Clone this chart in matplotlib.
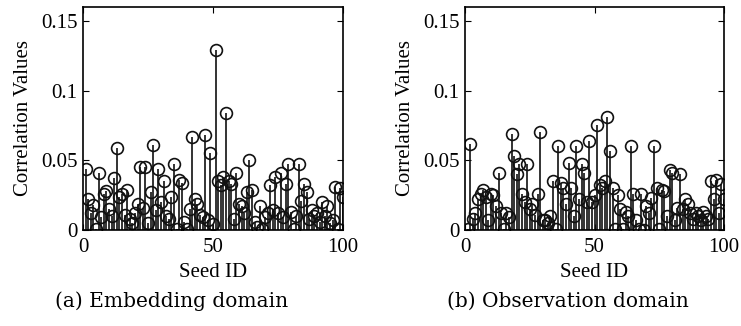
import matplotlib
matplotlib.use("Agg")
import matplotlib.pyplot as plt
import numpy as np

seed_ids = list(range(1, 101))

embedding_corr = [
    0.044, 0.022, 0.012, 0.018, 0.001, 0.041, 0.009, 0.026, 0.028, 0.015,
    0.010, 0.037, 0.059, 0.024, 0.026, 0.011, 0.029, 0.008, 0.005, 0.012,
    0.019, 0.045, 0.016, 0.045, 0.005, 0.027, 0.061, 0.014, 0.044, 0.020,
    0.035, 0.010, 0.008, 0.024, 0.047, 0.001, 0.036, 0.034, 0.006, 0.001,
    0.015, 0.067, 0.022, 0.019, 0.011, 0.009, 0.068, 0.007, 0.055, 0.004,
    0.129, 0.035, 0.032, 0.038, 0.084, 0.035, 0.033, 0.008, 0.041, 0.019,
    0.017, 0.012, 0.027, 0.050, 0.029, 0.006, 0.002, 0.017, 0.001, 0.009,
    0.012, 0.032, 0.014, 0.038, 0.012, 0.041, 0.009, 0.033, 0.047, 0.013,
    0.001, 0.010, 0.047, 0.021, 0.033, 0.027, 0.008, 0.014, 0.010, 0.012,
    0.006, 0.020, 0.010, 0.017, 0.005, 0.007, 0.031, 0.001, 0.030, 0.024,
]

observation_corr = [
    0.001, 0.062, 0.008, 0.012, 0.022, 0.026, 0.029, 0.024, 0.007, 0.026,
    0.025, 0.017, 0.041, 0.012, 0.001, 0.012, 0.009, 0.069, 0.053, 0.040,
    0.047, 0.026, 0.020, 0.047, 0.015, 0.019, 0.011, 0.026, 0.070, 0.007,
    0.007, 0.005, 0.010, 0.035, 0.001, 0.060, 0.034, 0.030, 0.019, 0.048,
    0.030, 0.010, 0.060, 0.022, 0.047, 0.041, 0.020, 0.064, 0.020, 0.025,
    0.075, 0.032, 0.030, 0.035, 0.081, 0.057, 0.030, 0.001, 0.025, 0.015,
    0.001, 0.013, 0.010, 0.060, 0.026, 0.007, 0.001, 0.026, 0.000, 0.017,
    0.012, 0.023, 0.060, 0.030, 0.001, 0.029, 0.028, 0.010, 0.043, 0.041,
    0.007, 0.016, 0.040, 0.015, 0.022, 0.019, 0.012, 0.008, 0.012, 0.010,
    0.007, 0.013, 0.010, 0.008, 0.035, 0.022, 0.036, 0.012, 0.033, 0.022,
]

captions = ["(a) Embedding domain", "(b) Observation domain"]
yticks = [0, 0.05, 0.1, 0.15]
yticklabels = ["0", "0.05", "0.1", "0.15"]
xticks = [0, 50, 100]

fig = plt.figure(figsize=(7.41, 3.26), dpi=100)
serif = ["Liberation Serif", "DejaVu Serif"]
fs = 15

axes_pos = [[83 / 741, 1 - 230 / 326, 260 / 741, 223 / 326],
            [465 / 741, 1 - 230 / 326, 259 / 741, 223 / 326]]
caption_x = [172 / 741, 568 / 741]

for pos, vals, cap, cx in zip(axes_pos, [embedding_corr, observation_corr],
                              captions, caption_x):
    ax = fig.add_axes(pos)
    ml, sl, bl = ax.stem(seed_ids, vals, linefmt="k-", markerfmt="ko", basefmt="k-")
    plt.setp(sl, linewidth=1.2, color="#111111")
    plt.setp(ml, markerfacecolor="none", markeredgecolor="#111111",
             markersize=8.5, markeredgewidth=1.2)
    plt.setp(bl, linewidth=1.0)
    ax.set_xlim(0, 100)
    ax.set_ylim(0, 0.16)
    ax.set_xticks(xticks)
    ax.set_yticks(yticks)
    ax.set_yticklabels(yticklabels)
    ax.tick_params(direction="in", top=True, right=True, length=4, width=0.8,
                   labelsize=fs)
    ax.tick_params(axis="x", pad=6)
    ax.tick_params(axis="y", pad=4)
    for lab in ax.get_xticklabels() + ax.get_yticklabels():
        lab.set_family(serif)
    for s in ax.spines.values():
        s.set_linewidth(1.2)
    ax.set_xlabel("Seed ID", family=serif, fontsize=fs, labelpad=4)
    ax.set_ylabel("Correlation Values", family=serif, fontsize=fs, labelpad=6)
    fig.text(cx, 0.075, cap, ha="center", va="center",
             family=["DejaVu Serif"], fontsize=14.5)

fig.savefig("out.png", dpi=100)
